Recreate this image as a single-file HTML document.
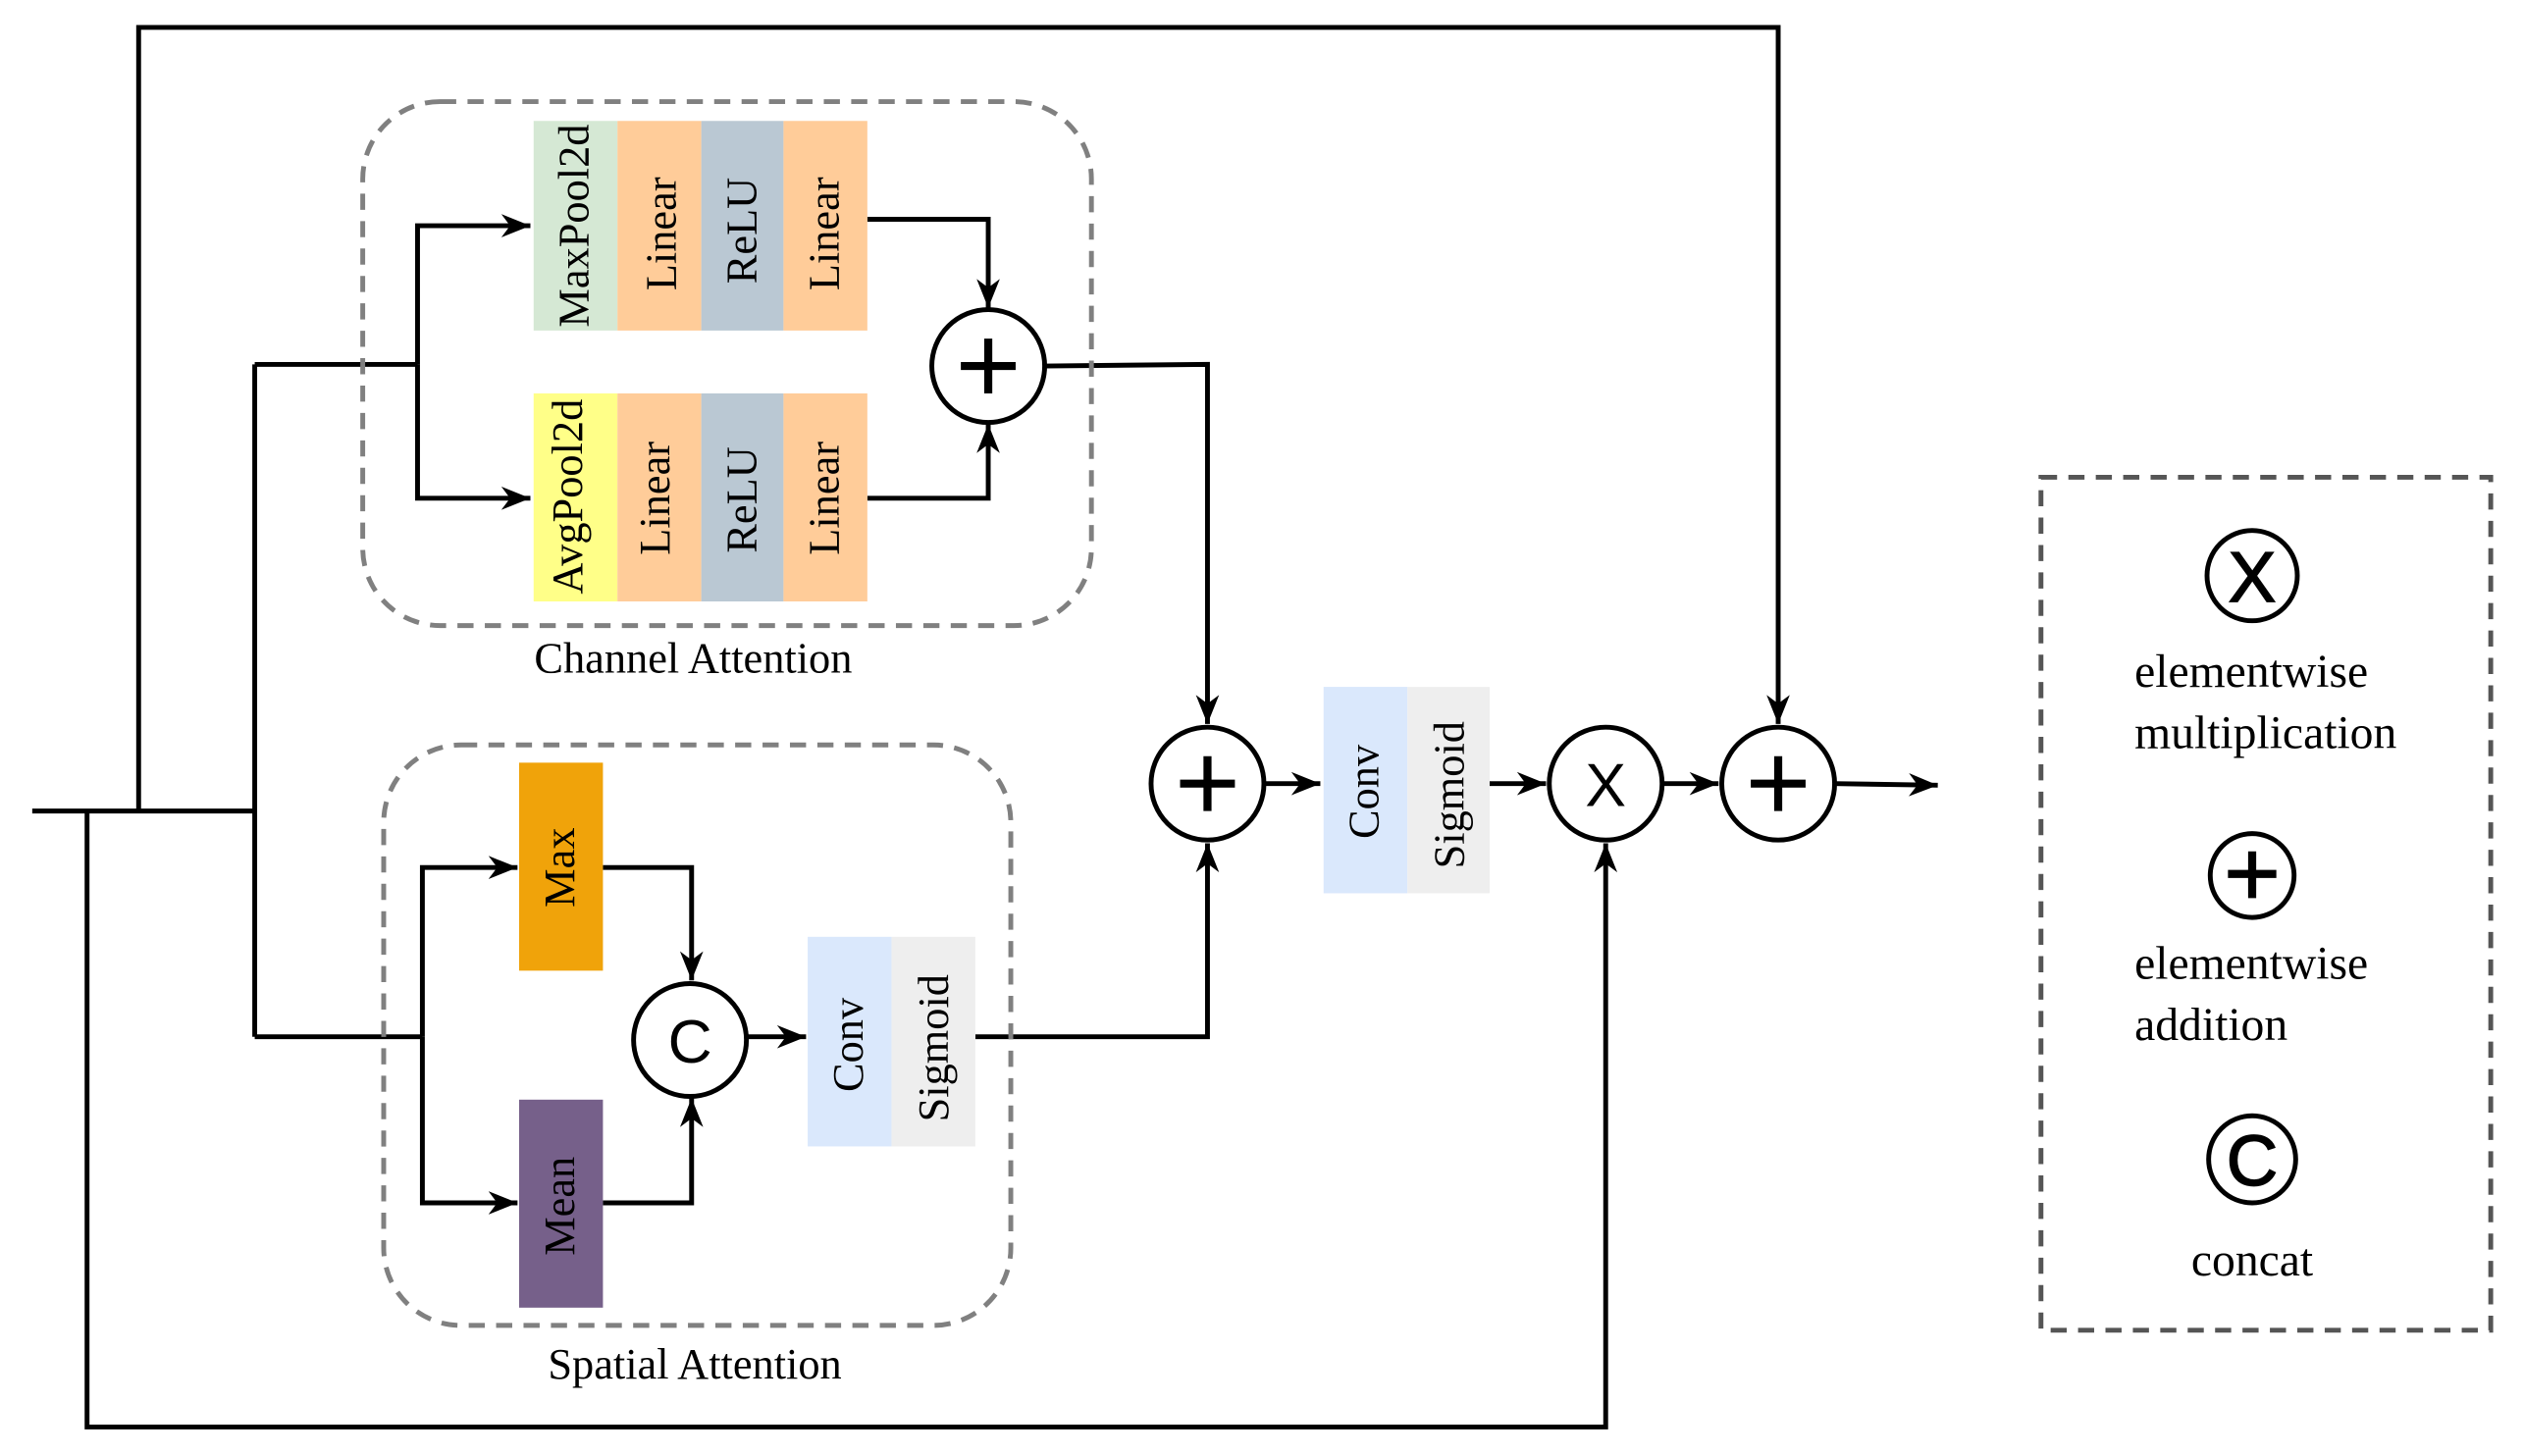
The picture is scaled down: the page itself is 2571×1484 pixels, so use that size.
<!DOCTYPE html>
<html><head><meta charset="utf-8"><style>html,body{margin:0;padding:0;background:#fff}svg{display:block}
.serif{font-family:"Liberation Serif","DejaVu Serif",serif}
.sans{font-family:"Liberation Sans","DejaVu Sans",sans-serif}
</style></head>
<body>
<svg width="2571" height="1484" viewBox="0 0 1565 903" preserveAspectRatio="none" xmlns="http://www.w3.org/2000/svg">
<defs>
<marker id="b" viewBox="0 0 10 10" refX="10" refY="5" markerWidth="18" markerHeight="18" orient="auto" markerUnits="userSpaceOnUse">
<path d="M0,1 L10,5 L0,9 L3,5 z" fill="#000"/></marker>
</defs>
<g fill="none" stroke="#000" stroke-width="3">
<polyline points="86,503 86,17 1103,17 1103,449" marker-end="url(#b)"/>
<line x1="20" y1="503" x2="158" y2="503"/>
<polyline points="54,503 54,885 996,885 996,523" marker-end="url(#b)"/>
<line x1="158" y1="226" x2="158" y2="643"/>
<line x1="158" y1="226" x2="259" y2="226"/>
<polyline points="259,226 259,140 329,140" marker-end="url(#b)"/>
<polyline points="259,226 259,309 329,309" marker-end="url(#b)"/>
<polyline points="538,136 613,136 613,191" marker-end="url(#b)"/>
<polyline points="538,309 613,309 613,263" marker-end="url(#b)"/>
<polyline points="648,227 749,226 749,449" marker-end="url(#b)"/>
<line x1="158" y1="643" x2="262" y2="643"/>
<polyline points="262,643 262,538 321,538" marker-end="url(#b)"/>
<polyline points="262,643 262,746 321,746" marker-end="url(#b)"/>
<polyline points="374,538 429,538 429,608" marker-end="url(#b)"/>
<polyline points="374,746 429,746 429,681" marker-end="url(#b)"/>
<line x1="463" y1="643" x2="500" y2="643" marker-end="url(#b)"/>
<polyline points="605,643 749,643 749,523" marker-end="url(#b)"/>
<line x1="784" y1="486" x2="819" y2="486" marker-end="url(#b)"/>
<line x1="924" y1="486" x2="959" y2="486" marker-end="url(#b)"/>
<line x1="1031" y1="486" x2="1066" y2="486" marker-end="url(#b)"/>
<line x1="1138" y1="486" x2="1202" y2="487" marker-end="url(#b)"/>
</g>
<g fill="none" stroke="#808080" stroke-width="3" stroke-dasharray="10,7">
<rect x="225" y="63" width="452" height="325" rx="48"/>
<rect x="238" y="462" width="389" height="360" rx="48"/>
</g>
<rect x="1266" y="296" width="279" height="529" fill="none" stroke="#555" stroke-width="3" stroke-dasharray="10,7"/>
<g stroke="none">
<rect x="331" y="75" width="52" height="130" fill="#d5e8d4"/>
<rect x="383" y="75" width="52" height="130" fill="#ffcc99"/>
<rect x="435" y="75" width="51" height="130" fill="#bac8d3"/>
<rect x="486" y="75" width="52" height="130" fill="#ffcc99"/>
<rect x="331" y="244" width="52" height="129" fill="#ffff88"/>
<rect x="383" y="244" width="52" height="129" fill="#ffcc99"/>
<rect x="435" y="244" width="51" height="129" fill="#bac8d3"/>
<rect x="486" y="244" width="52" height="129" fill="#ffcc99"/>
<rect x="322" y="473" width="52" height="129" fill="#f0a30a"/>
<rect x="322" y="682" width="52" height="129" fill="#76608a"/>
<rect x="501" y="581" width="52" height="130" fill="#dae8fc"/>
<rect x="553" y="581" width="52" height="130" fill="#eeeeee"/>
<rect x="821" y="426" width="52" height="128" fill="#dae8fc"/>
<rect x="873" y="426" width="51" height="128" fill="#eeeeee"/>
</g>
<g class="serif" font-size="27" fill="#000" text-anchor="middle">
<text transform="translate(365,140) rotate(-90)">MaxPool2d</text>
<text transform="translate(419,145) rotate(-90)">Linear</text>
<text transform="translate(469,143) rotate(-90)">ReLU</text>
<text transform="translate(520,145) rotate(-90)">Linear</text>
<text transform="translate(361,308) rotate(-90)">AvgPool2d</text>
<text transform="translate(415,309) rotate(-90)">Linear</text>
<text transform="translate(469,310) rotate(-90)">ReLU</text>
<text transform="translate(520,309) rotate(-90)">Linear</text>
<text transform="translate(356,538) rotate(-90)">Max</text>
<text transform="translate(356,748) rotate(-90)">Mean</text>
<text transform="translate(535,648) rotate(-90)">Conv</text>
<text transform="translate(588,650) rotate(-90)">Sigmoid</text>
<text transform="translate(855,491) rotate(-90)">Conv</text>
<text transform="translate(908,493) rotate(-90)">Sigmoid</text>
<text x="430" y="417">Channel Attention</text>
<text x="431" y="855">Spatial Attention</text>
</g>
<g fill="#fff" stroke="#000" stroke-width="3">
<circle cx="613" cy="227" r="35"/>
<circle cx="749" cy="486" r="35"/>
<circle cx="1103" cy="486" r="35"/>
<circle cx="996" cy="486" r="35"/>
<circle cx="428" cy="645" r="35"/>
<circle cx="1397" cy="357" r="28"/>
<circle cx="1397" cy="543" r="26"/>
<circle cx="1397" cy="719" r="27"/>
</g>
<g stroke="#000" stroke-width="5">
<line x1="596" y1="227" x2="630" y2="227"/><line x1="613" y1="210" x2="613" y2="244"/>
<line x1="732" y1="486" x2="766" y2="486"/><line x1="749" y1="469" x2="749" y2="503"/>
<line x1="1086" y1="486" x2="1120" y2="486"/><line x1="1103" y1="469" x2="1103" y2="503"/>
<line x1="1382" y1="542" x2="1412" y2="542"/><line x1="1397" y1="528" x2="1397" y2="557"/>
</g>
<g class="sans" fill="#000" text-anchor="middle">
<text x="996" y="500" font-size="38">X</text>
<text x="428" y="659" font-size="38">C</text>
<text x="1397" y="373" font-size="44" stroke="#000" stroke-width="1">X</text>
<text x="1397" y="735" font-size="44" stroke="#000" stroke-width="1">C</text>
</g>
<g class="serif" font-size="29" fill="#000">
<text x="1324" y="426">elementwise</text>
<text x="1324" y="464">multiplication</text>
<text x="1324" y="607">elementwise</text>
<text x="1324" y="645">addition</text>
<text x="1397" y="791" text-anchor="middle">concat</text>
</g>
</svg>
</body></html>
